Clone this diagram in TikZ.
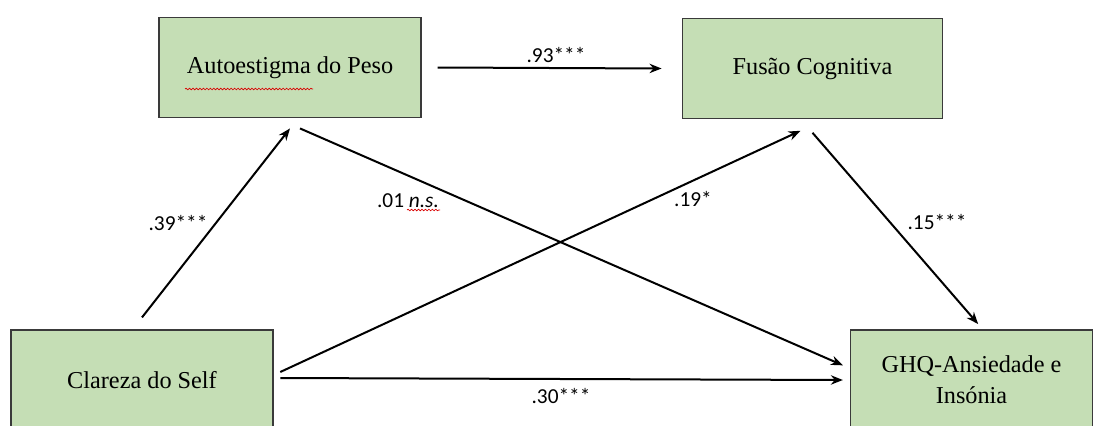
\documentclass[tikz,border=0pt]{standalone}
\usepackage{fontspec}
\setmainfont{Liberation Serif}
\newfontfamily\boxfont{Liberation Serif}
\newfontfamily\lblfont{Carlito}
\usetikzlibrary{arrows.meta,decorations.pathmorphing}
\definecolor{boxgreen}{HTML}{C5DEB5}
\definecolor{boxline}{HTML}{3A3A3A}
\tikzset{
  varbox/.style={draw=boxline, line width=0.9pt, fill=boxgreen, align=center,
    font=\boxfont\fontsize{18.2}{23}\selectfont, inner sep=0pt},
  path/.style={-{Stealth[length=9pt,width=7pt]}, line width=1.5pt},
  coef/.style={font=\lblfont\fontsize{16}{18}\selectfont, inner sep=0pt},
  spell/.style={red!85!black, line width=0.5pt, decorate,
    decoration={snake, amplitude=0.6pt, segment length=2.6pt}}
}
\begin{document}
\begin{tikzpicture}[x=0.75pt, y=-0.75pt]
  \useasboundingbox (0,0) rectangle (1099,425);
  % variables
  \node[varbox, minimum width=196.5pt, minimum height=75.5pt] (peso) at (290,67.5) {Autoestigma do Peso};
  \node[varbox, minimum width=195.5pt, minimum height=74.5pt] (fusao) at (812.5,68.5) {Fusão Cognitiva};
  \node[varbox, minimum width=196.5pt, minimum height=75pt] (self) at (142,380) {Clareza do Self};
  \node[varbox, minimum width=182pt, minimum height=75pt] (ghq) at (971.5,380) {GHQ-Ansiedade e\\Insónia};
  % paths
  \draw[path] ([xshift=12pt]peso.east) -- ([xshift=-15pt]fusao.west);
  \draw[path] ([yshift=9pt]self.north) -- ([yshift=-7.5pt]peso.south);
  \draw[path] ([xshift=7.5pt,yshift=-7.5pt]peso.south) -- ([xshift=-5pt,yshift=11pt]ghq.west);
  \draw[path] ([xshift=5pt,yshift=6pt]self.east) -- ([xshift=-9pt,yshift=-9pt]fusao.south);
  \draw[path] ([yshift=-10.5pt]fusao.south) -- ([xshift=5pt,yshift=4pt]ghq.north);
  \draw[path] ([xshift=5pt,yshift=1.5pt]self.east) -- ([xshift=-5pt]ghq.west);
  % coefficients
  \node[coef] (c93) at (556,55) {.93***};
  \node[coef] (c39) at (178,223) {.39***};
  \node[coef] (c01) at (408,201) {.01 \textit{n.s.}};
  \node[coef] (c19) at (693,199) {.19*};
  \node[coef] (c15) at (937,222) {.15***};
  \node[coef] (c30) at (561,396) {.30***};
  % spell-check marks
  \draw[spell] (185,89) -- (313,89);
  \draw[spell] (407,210) -- (440,210);
\end{tikzpicture}
\end{document}
